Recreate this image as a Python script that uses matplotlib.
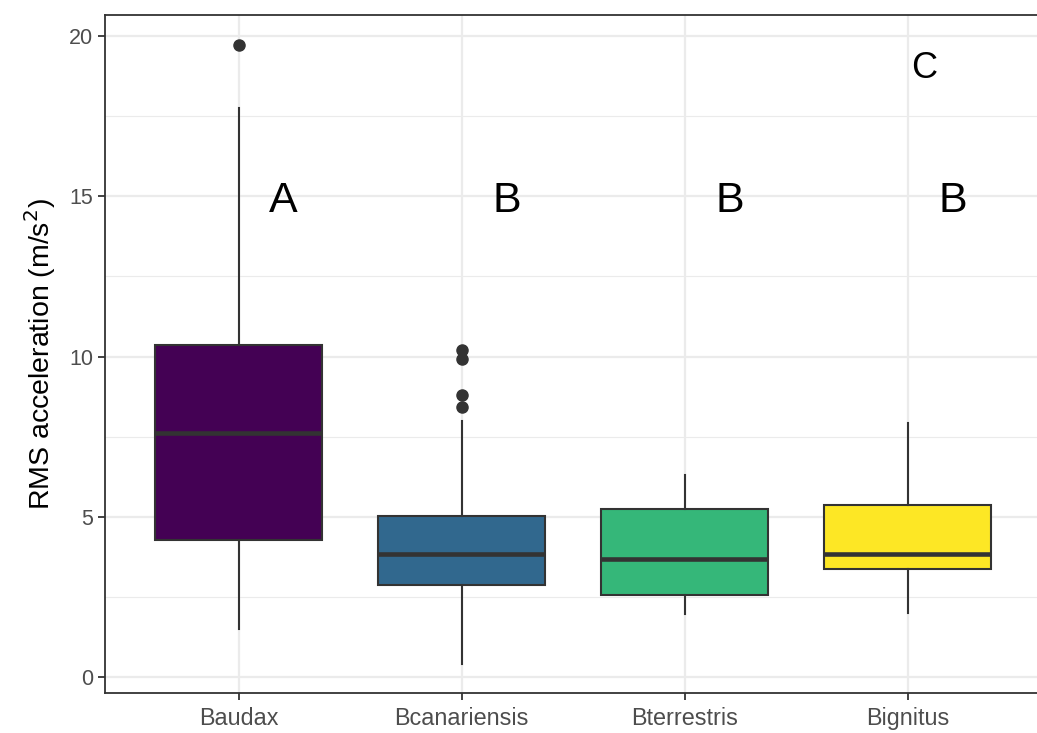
import numpy as np
import matplotlib
matplotlib.use("Agg")
import matplotlib.pyplot as plt
from matplotlib.ticker import MultipleLocator

plt.rcParams["font.family"] = ["Liberation Sans", "DejaVu Sans"]

# box statistics
SPECIES = ["Baudax", "Bcanariensis", "Bterrestris", "Bignitus"]
WHISK_LO = [1.5, 0.42, 1.98, 1.99]
Q1 = [4.27, 2.88, 2.57, 3.38]
MEDIAN = [7.6, 3.83, 3.67, 3.83]
Q3 = [10.37, 5.03, 5.24, 5.37]
WHISK_HI = [17.75, 8.0, 6.31, 7.92]
OUTLIERS = [[19.71], [10.21, 9.93, 8.80, 8.42], [], []]
COLORS = ["#440154", "#31688E", "#35B779", "#FDE725"]

# letters (x position, y)
LETTERS = ["A", "B", "B", "B", "C"]
LETTER_X = [1.2, 2.2, 3.2, 4.2, 4.075]
LETTER_Y = [14.85, 14.85, 14.85, 14.85, 19.0]
LETTER_SIZE = [31, 31, 31, 31, 26]

DARK = "#333333"

fig = plt.figure(figsize=(10.37, 7.33), dpi=100)
ax = fig.add_axes([105 / 1037, 40 / 733, (1041.6 - 105) / 1037, 678 / 733])

stats = []
for i, name in enumerate(SPECIES):
    stats.append(dict(label=name, whislo=WHISK_LO[i], q1=Q1[i], med=MEDIAN[i],
                      q3=Q3[i], whishi=WHISK_HI[i], fliers=OUTLIERS[i]))

pos = np.arange(1, len(SPECIES) + 1)
bp = ax.bxp(stats, positions=pos, widths=0.75, patch_artist=True,
            showcaps=False, zorder=3,
            boxprops=dict(edgecolor=DARK, linewidth=1.5),
            medianprops=dict(color=DARK, linewidth=3.3, solid_capstyle="butt"),
            whiskerprops=dict(color=DARK, linewidth=1.5),
            flierprops=dict(marker="o", markerfacecolor=DARK, markeredgecolor=DARK,
                            markersize=8))
for patch, c in zip(bp["boxes"], COLORS):
    patch.set_facecolor(c)

for t, x, y, s in zip(LETTERS, LETTER_X, LETTER_Y, LETTER_SIZE):
    ax.text(x, y, t, ha="center", va="center", fontsize=s, color="black", zorder=4)

ax.set_xlim(0.4, 4.6)
ax.set_ylim(-0.5, 20.66)
ax.yaxis.set_major_locator(MultipleLocator(5))
ax.yaxis.set_minor_locator(MultipleLocator(2.5))
ax.set_xticks(pos)
ax.set_xticklabels(SPECIES)

ax.grid(True, which="major", color="#EBEBEB", linewidth=1.6, zorder=0)
ax.grid(True, which="minor", axis="y", color="#EBEBEB", linewidth=0.8, zorder=0)
ax.set_axisbelow(True)

for sp in ax.spines.values():
    sp.set_color(DARK)
    sp.set_linewidth(1.3)

ax.tick_params(axis="both", which="major", colors=DARK, length=5, width=1.3,
               labelcolor="#4D4D4D")
ax.tick_params(axis="y", which="major", labelsize=15.5)
ax.tick_params(axis="x", which="major", labelsize=16.8, pad=5)
ax.tick_params(axis="y", which="minor", length=0)

ax.set_ylabel("RMS acceleration (m/s$^{2}$)", fontsize=20.5, color="black", labelpad=8)

fig.savefig("out.png", dpi=100)
